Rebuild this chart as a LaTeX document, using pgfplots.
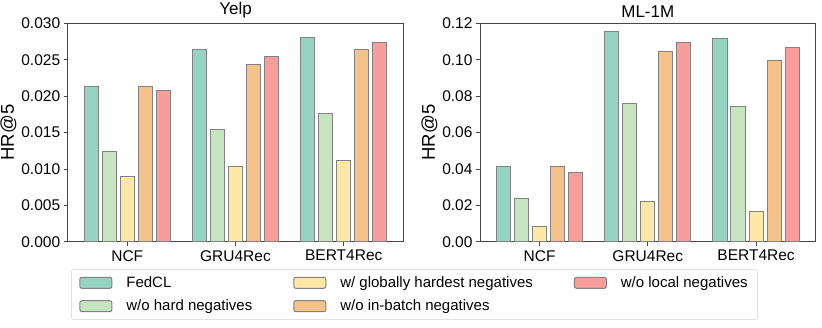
\documentclass[border=0pt]{standalone}
\usepackage{fontspec}
\setmainfont{Liberation Sans}
\usepackage{pgfplots}
\pgfplotsset{compat=1.18}

\definecolor{cFed}{RGB}{148,212,192}
\definecolor{cHard}{RGB}{199,228,192}
\definecolor{cGlob}{RGB}{253,232,168}
\definecolor{cBatch}{RGB}{246,194,140}
\definecolor{cLocal}{RGB}{248,156,156}
\definecolor{cEdge}{RGB}{130,130,130}
\definecolor{cSpine}{RGB}{70,70,70}

\pgfplotsset{
  hrbase/.style={
    width=335.6pt, height=218.4pt, scale only axis,
    anchor=south west,
    ybar, bar width=0.13,
    xmin=-0.55, xmax=2.55, ymin=0,
    xtick={0,1,2}, xticklabels={NCF,GRU4Rec,BERT4Rec},
    tick pos=left, tick align=outside,
    major tick length=4pt,
    tick style={cSpine, line width=0.8pt},
    axis line style={cSpine, line width=0.8pt},
    scaled y ticks=false,
    /pgf/number format/assume math mode=true,
    tick label style={font=\fontsize{15.5}{18}\selectfont},
    xticklabel style={yshift=-1pt},
    ylabel={HR@5},
    ylabel style={font=\fontsize{18.5}{21}\selectfont, yshift=-2pt},
    title style={font=\fontsize{17}{19}\selectfont, yshift=-4pt},
    every axis plot/.append style={draw=cEdge, line width=1pt},
    legend image code/.code={%
      \draw[#1] (0pt,-5.5pt) rectangle (32pt,5.5pt);},
  },
}

\begin{document}
\begin{tikzpicture}
\useasboundingbox (0,0) rectangle (822pt,327pt);

\begin{axis}[hrbase, at={(67.7pt,85.3pt)},
  title={Yelp},
  ymax=0.030,
  ytick={0,0.005,0.010,0.015,0.020,0.025,0.030},
  yticklabel style={/pgf/number format/.cd, fixed, fixed zerofill, precision=3},
  legend columns=2, transpose legend,
  legend cell align=left,
  legend style={at={(1.0334,-0.127)}, anchor=north,
    draw=gray!35, rounded corners=2pt, inner xsep=8pt, inner ysep=5pt,
    font=\fontsize{15}{17}\selectfont,
    /tikz/every odd column/.append style={column sep=12pt},
    /tikz/every even column/.append style={column sep=39pt},
    row sep=7pt},
]
\addplot[fill=cFed, bar shift=-0.333] coordinates {(0,0.0213) (1,0.0264) (2,0.0281)};
\addplot[fill=cHard, bar shift=-0.167] coordinates {(0,0.0124) (1,0.0154) (2,0.0176)};
\addplot[fill=cGlob, bar shift=0] coordinates {(0,0.0089) (1,0.0103) (2,0.0111)};
\addplot[fill=cBatch, bar shift=0.167] coordinates {(0,0.0213) (1,0.0243) (2,0.0264)};
\addplot[fill=cLocal, bar shift=0.333] coordinates {(0,0.0208) (1,0.0255) (2,0.0273)};
\legend{FedCL, w/o hard negatives, w/ globally hardest negatives, w/o in-batch negatives, w/o local negatives}
\end{axis}

\begin{axis}[hrbase, at={(480pt,85.3pt)},
  title={ML-1M},
  ymax=0.12,
  ytick={0,0.02,0.04,0.06,0.08,0.10,0.12},
  yticklabel style={/pgf/number format/.cd, fixed, fixed zerofill, precision=2},
]
\addplot[fill=cFed, bar shift=-0.333] coordinates {(0,0.0414) (1,0.1156) (2,0.1115)};
\addplot[fill=cHard, bar shift=-0.167] coordinates {(0,0.0240) (1,0.0762) (2,0.0744)};
\addplot[fill=cGlob, bar shift=0] coordinates {(0,0.0081) (1,0.0220) (2,0.0165)};
\addplot[fill=cBatch, bar shift=0.167] coordinates {(0,0.0414) (1,0.1044) (2,0.0997)};
\addplot[fill=cLocal, bar shift=0.333] coordinates {(0,0.0381) (1,0.1092) (2,0.1068)};
\end{axis}
\end{tikzpicture}
\end{document}
